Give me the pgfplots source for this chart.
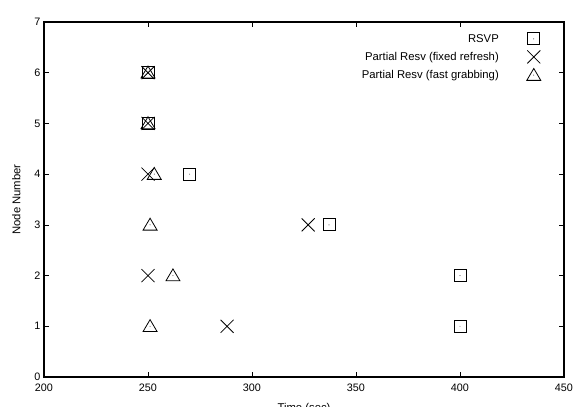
\documentclass[border=0pt]{standalone}
\usepackage{fontspec}
\setmainfont{Liberation Sans}
\usepackage{pgfplots}
\pgfplotsset{compat=1.18}
\pgfdeclareplotmark{sqdot}{%
  \pgfpathrectangle{\pgfqpoint{-\pgfplotmarksize}{-\pgfplotmarksize}}{\pgfqpoint{2\pgfplotmarksize}{2\pgfplotmarksize}}%
  \pgfusepathqstroke
  \pgfpathcircle{\pgfpointorigin}{0.45pt}\pgfusepathqfill}
\pgfdeclareplotmark{tridot}{%
  \pgfpathmoveto{\pgfqpoint{0pt}{0.95\pgfplotmarksize}}%
  \pgfpathlineto{\pgfqpoint{-1.0\pgfplotmarksize}{-0.75\pgfplotmarksize}}%
  \pgfpathlineto{\pgfqpoint{1.0\pgfplotmarksize}{-0.75\pgfplotmarksize}}%
  \pgfpathclose
  \pgfusepathqstroke
  \pgfpathcircle{\pgfpointorigin}{0.45pt}\pgfusepathqfill}
\pgfdeclareplotmark{bigx}{%
  \pgfpathmoveto{\pgfqpoint{-\pgfplotmarksize}{-\pgfplotmarksize}}%
  \pgfpathlineto{\pgfqpoint{\pgfplotmarksize}{\pgfplotmarksize}}%
  \pgfpathmoveto{\pgfqpoint{-\pgfplotmarksize}{\pgfplotmarksize}}%
  \pgfpathlineto{\pgfqpoint{\pgfplotmarksize}{-\pgfplotmarksize}}%
  \pgfusepathqstroke}
\begin{document}
\begin{tikzpicture}
\begin{axis}[
  at={(0,0)}, anchor=south west,
  scale only axis, width=520pt, height=355pt,
  xmin=200, xmax=450, ymin=0, ymax=7,
  xtick={200,250,...,450}, ytick={0,1,...,7},
  tick align=inside, tick pos=both,
  major tick length=5pt,
  axis line style={line width=1.1pt},
  tick style={line width=0.6pt, black},
  font=\fontsize{11.3}{13}\selectfont,
  tick label style={font=\fontsize{10.8}{12}\selectfont},
  /pgf/number format/assume math mode=true,
  xlabel={Time (sec)}, ylabel={Node Number},
  xlabel style={font=\fontsize{11.3}{13}\selectfont, yshift=-5pt},
  ylabel style={font=\fontsize{11.3}{13}\selectfont, yshift=7pt},
  xticklabel style={yshift=-3pt},
  legend style={at={(rel axis cs:1,1)}, anchor=north east, xshift=-20pt, yshift=-8pt,
    draw=none, fill=none, font=\fontsize{11.3}{13}\selectfont, row sep=4.5pt, column sep=26pt},
  legend plot pos=right, legend cell align=right,
]
\addplot[only marks, mark=sqdot, mark size=6pt, black, line width=0.8pt] coordinates {
  (250,6) (250,5) (270,4) (337,3) (400,2) (400,1)};
\addlegendentry{RSVP}
\addplot[only marks, mark=bigx, mark size=6.5pt, black, line width=0.8pt] coordinates {
  (250,6) (250,5) (250,4) (327,3) (250,2) (288,1)};
\addlegendentry{Partial Resv (fixed refresh)}
\addplot[only marks, mark=tridot, mark size=7pt, black, line width=0.8pt] coordinates {
  (250,6) (250,5) (253,4) (251,3) (262,2) (251,1)};
\addlegendentry{Partial Resv (fast grabbing)}
\end{axis}
\pgfresetboundingbox
\useasboundingbox (-44pt,-30pt) rectangle (530pt,377pt);
\end{tikzpicture}
\end{document}
